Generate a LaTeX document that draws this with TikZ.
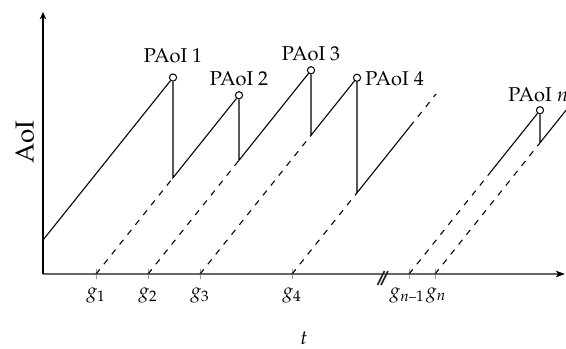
\documentclass[tikz,border=0pt]{standalone}
\usepackage[T1]{fontenc}
\usepackage{mathpazo}
\usetikzlibrary{arrows.meta,calc}
\tikzset{
  plotline/.style={line width=0.55pt, black},
  dashline/.style={plotline, dash pattern=on 3pt off 3.3pt},
  peak/.style={circle, draw, line width=0.5pt, minimum size=3.6pt, inner sep=0pt},
  lbl/.style={font=\fontsize{10}{12}\selectfont, inner sep=0pt},
  ticksty/.style={draw=gray!80, line width=0.5pt},
  xaxis/.style={draw=black!60, line width=1pt, -{Stealth[length=4.5pt,width=3.2pt,inset=1pt,black]}},
  yaxis/.style={draw=black, line width=0.55pt, -{Stealth[length=3.6pt,width=3.2pt,inset=1pt]}},
  brk/.style={draw=black!85, line width=0.8pt}
}
\begin{document}
\begin{tikzpicture}[x=0.5pt,y=-0.5pt]
\clip (0,0) rectangle (566,348);
% axes and ticks
\coordinate (O) at (43,274);
\coordinate (ytip) at (43,12);
\coordinate (xtip) at (565,274);
\coordinate (g1) at (96,274);
\coordinate (g2) at (148,274);
\coordinate (g3) at (200,274);
\coordinate (g4) at (292,274);
\coordinate (gn1) at (409,274);
\coordinate (gn) at (435,274);
\draw[xaxis] (O) -- (xtip);
\draw[yaxis] (O) -- (ytip);
\foreach \g in {g1,g2,g3,g4,gn1,gn}
  \draw[ticksty] ($(\g)+(0,-5)$) -- ($(\g)+(0,5)$);
% break marks
\coordinate (b1a) at (377.5,285);
\coordinate (b1b) at (384.5,271);
\coordinate (b2a) at (381,285);
\coordinate (b2b) at (388,271);
\draw[brk] (b1a) -- (b1b);
\draw[brk] (b2a) -- (b2b);
% curve points
\coordinate (a0) at (43,240);
\node[peak] (p1) at (173,77.5) {};
\coordinate (d1) at (173,177.75);
\node[peak] (p2) at (239,95.25) {};
\coordinate (d2) at (239,160.25);
\node[peak] (p3) at (311,70.25) {};
\coordinate (d3) at (311,135.25);
\node[peak] (p4) at (357,77.75) {};
\coordinate (d4) at (357,192.75);
\coordinate (s4) at (410,126.5);
\coordinate (e4) at (436,94);
\coordinate (dn1) at (488,175.25);
\node[peak] (pn) at (540,110.25) {};
\coordinate (dn) at (540,142.75);
\coordinate (en) at (580,92.75);
% solid sawtooth
\draw[plotline] (a0) -- (p1) -- (d1) -- (p2) -- (d2) -- (p3) -- (d3) -- (p4) -- (d4) -- (s4);
\draw[plotline] (dn1) -- (pn) -- (dn) -- (en);
% dashed lines
\draw[dashline] (g1) -- (d1);
\draw[dashline] (g2) -- (d2);
\draw[dashline] (g3) -- (d3);
\draw[dashline] (g4) -- (d4);
\draw[dashline] (s4) -- (e4);
\draw[dashline] (gn1) -- (dn1);
\draw[dashline] (gn) -- (dn);
% peak labels
\node[lbl] (l1) at (173,55.5) {PAoI 1};
\node[lbl] (l2) at (239,78.5) {PAoI 2};
\node[lbl] (l3) at (311,54) {PAoI 3};
\node[lbl, anchor=west] (l4) at (365,78.5) {PAoI 4};
\node[lbl, anchor=west] (ln) at (508,94.5) {PAoI $n$};
% tick labels
\node[lbl, anchor=base] (t1) at (96,297.5) {$g_1$};
\node[lbl, anchor=base] (t2) at (148,297.5) {$g_2$};
\node[lbl, anchor=base] (t3) at (200,297.5) {$g_3$};
\node[lbl, anchor=base] (t4) at (292,297.5) {$g_4$};
\node[lbl, anchor=base east] (tn1) at (425,297.5) {$g_{n\mbox{\fontsize{7}{8}\selectfont--}1}$};
\node[lbl, anchor=base west] (tn) at (425.5,297.5) {$g_n$};
% axis labels
\node[font=\fontsize{13}{15}\selectfont, rotate=90, inner sep=0pt] (ylab) at (25,142) {AoI};
\node[lbl, anchor=base] (xlab) at (304,344) {$t$};
\end{tikzpicture}
\end{document}
